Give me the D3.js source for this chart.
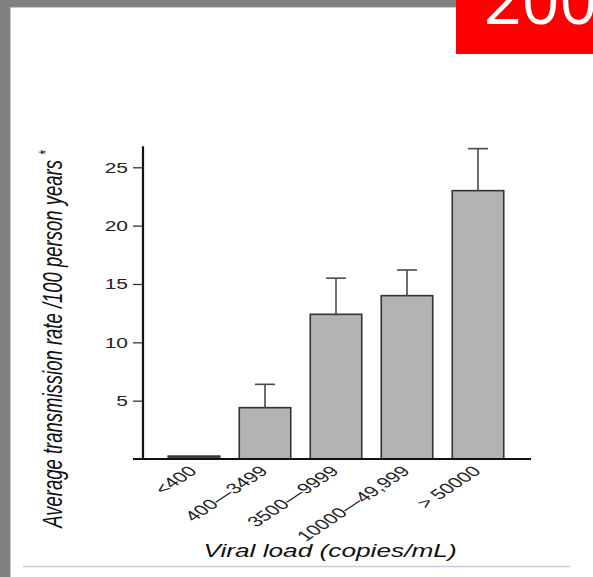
<!DOCTYPE html>
<html>
<head>
<meta charset="utf-8">
<script src="https://cdn.jsdelivr.net/npm/d3@7"></script>
<style>
  body { margin: 0; background: #fff; }
  svg { display: block; font-family: "Liberation Sans", Arial, sans-serif; }
</style>
</head>
<body>
<div id="chart"></div>
<script>
// data
var categories = ["<400", "400\u20143499", "3500\u20149999", "10000\u201449,999", "> 50000"];
var rates = [0.25, 4.4, 12.4, 14.0, 23.0];
var errTop = [0.25, 6.4, 15.5, 16.2, 26.6];
var yTicks = [5, 10, 15, 20, 25];

var W = 593, H = 577;
var stretch = 1.5; // the source picture is widened horizontally

var svg = d3.select("#chart").append("svg")
    .attr("width", W)
    .attr("height", H);

// slide frame
svg.append("rect").attr("x", 0).attr("y", 0).attr("width", W).attr("height", H).attr("fill", "#fff");
svg.append("rect").attr("x", 0).attr("y", 0).attr("width", 456).attr("height", 7).attr("fill", "#808080");
svg.append("rect").attr("x", 0).attr("y", 0).attr("width", 10.5).attr("height", H).attr("fill", "#808080");
svg.append("line").attr("x1", 10.5).attr("x2", 10.5).attr("y1", 7).attr("y2", H)
    .attr("stroke", "#c8c8c8").attr("stroke-width", 1);
svg.append("line").attr("x1", 10.5).attr("x2", 456).attr("y1", 7.5).attr("y2", 7.5)
    .attr("stroke", "#c8c8c8").attr("stroke-width", 1);

// red year box in the corner (its text runs off the page, as in the source)
svg.append("rect").attr("x", 456).attr("y", 0).attr("width", W - 456).attr("height", 54).attr("fill", "#ff0000");
svg.append("text").attr("x", 484).attr("y", 23.5)
    .attr("fill", "#fff")
    .style("font-family", "'Open Sans', sans-serif")
    .style("font-size", "66px")
    .text("200");

// bottom rule
svg.append("line").attr("x1", 23).attr("x2", 570).attr("y1", 566.5).attr("y2", 566.5)
    .attr("stroke", "#c5cbdd").attr("stroke-width", 1.5);

// scales
var x = d3.scalePoint().domain(categories).range([194, 478]);
var barW = x.step() * 0.725;
var y = d3.scaleLinear().domain([0, 25]).range([459, 167.3]);

var axisX = 143;

// bars
svg.selectAll(".bar")
  .data(categories)
  .enter().append("rect")
    .attr("class", "bar")
    .attr("x", function(d) { return x(d) - barW / 2; })
    .attr("y", function(d, i) { return y(rates[i]); })
    .attr("width", barW)
    .attr("height", function(d, i) { return y(0) - y(rates[i]); })
    .attr("fill", function(d, i) { return i === 0 ? "#444" : "#b2b3b5"; })
    .attr("stroke", "#333")
    .attr("stroke-width", 1.6);

// error bars (upper only)
var eb = svg.selectAll(".err")
  .data(categories.slice(1))
  .enter().append("g")
    .attr("class", "err")
    .attr("stroke", "#4a4a4a")
    .attr("stroke-width", 1.6);
eb.append("line")
    .attr("x1", function(d) { return x(d); })
    .attr("x2", function(d) { return x(d); })
    .attr("y1", function(d) { return y(rates[categories.indexOf(d)]); })
    .attr("y2", function(d) { return y(errTop[categories.indexOf(d)]); });
eb.append("line")
    .attr("x1", function(d) { return x(d) - 10; })
    .attr("x2", function(d) { return x(d) + 10; })
    .attr("y1", function(d) { return y(errTop[categories.indexOf(d)]); })
    .attr("y2", function(d) { return y(errTop[categories.indexOf(d)]); });

// y axis
var yAxis = svg.append("g")
    .attr("transform", "translate(" + axisX + ",0)")
    .call(d3.axisLeft(y).tickValues(yTicks).tickSize(10).tickPadding(0).tickSizeOuter(0));
yAxis.select(".domain").remove();
yAxis.selectAll(".tick line").attr("stroke", "#333").attr("stroke-width", 1.3);
yAxis.selectAll(".tick text")
    .attr("x", null).attr("dy", null)
    .attr("text-anchor", "end")
    .attr("transform", "translate(-15,5) scale(" + stretch + ",1)")
    .style("font-size", "14px")
    .attr("fill", "#222");

svg.append("line")
    .attr("x1", axisX).attr("x2", axisX)
    .attr("y1", y(26.8)).attr("y2", y(0) + 1)
    .attr("stroke", "#111").attr("stroke-width", 2.2);
svg.append("line")
    .attr("x1", 133).attr("x2", 531)
    .attr("y1", y(0)).attr("y2", y(0))
    .attr("stroke", "#111").attr("stroke-width", 2.2);

// x tick labels
svg.selectAll(".xlab")
  .data(categories)
  .enter().append("text")
    .attr("class", "xlab")
    .attr("transform", function(d) {
      return "translate(" + (x(d) + 4) + ",472) scale(" + stretch + ",1) rotate(-45)";
    })
    .attr("text-anchor", "end")
    .style("font-size", "14.5px")
    .attr("fill", "#222")
    .text(function(d) { return d; });

// axis titles
svg.append("text")
    .attr("transform", "translate(330,557) scale(" + stretch + ",1)")
    .attr("text-anchor", "middle")
    .style("font-size", "17.5px")
    .style("font-style", "italic")
    .attr("fill", "#111")
    .text("Viral load (copies/mL)");

var yt = svg.append("text")
    .attr("transform", "translate(62,339) scale(" + stretch + ",1) rotate(-90)")
    .attr("text-anchor", "middle")
    .style("font-size", "18.5px")
    .style("font-style", "italic")
    .attr("fill", "#111");
yt.append("tspan").text("Average transmission rate /100 person years ");
yt.append("tspan").attr("dy", -7).style("font-size", "12px").text("*");
</script>
</body>
</html>
